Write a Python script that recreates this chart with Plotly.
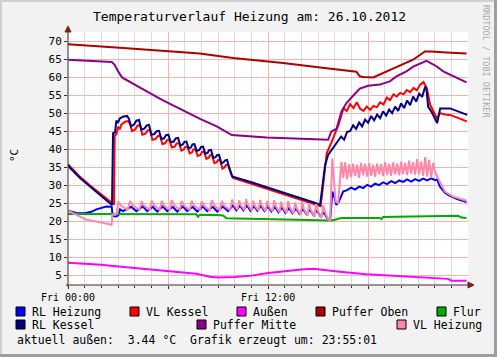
import plotly.graph_objects as go

# ---------------- data (hours since Fri 00:00, °C) ----------------
RL_HEIZUNG = [(0, 22.9), (0.5, 22.3), (1.0, 22.2), (1.4, 22.6), (1.7, 23.3), (2.0, 23.8), (2.3, 24.1), (2.62, 24.0),
              (2.68, 21.4), (2.9, 21.3), (3.05, 21.8), (3.12, 23.3), (3.3, 22.8),
              (3.78, 24.0), (4.1, 22.8), (4.48, 24.1), (4.75, 22.8), (5.08, 24.0), (5.35, 22.7), (5.68, 24.1), (5.95, 22.8),
              (6.28, 24.0), (6.55, 22.7), (6.88, 24.1), (7.15, 22.8), (7.48, 24.0), (7.75, 22.7), (8.08, 24.1), (8.35, 22.8),
              (8.68, 24.0), (8.95, 22.7), (9.28, 24.1), (9.6, 22.8),
              (9.9, 24.4), (10.1, 23.0), (10.32, 24.3), (10.52, 23.0), (10.74, 24.4), (10.94, 22.9), (11.16, 24.2), (11.36, 22.9),
              (11.58, 24.3), (11.78, 22.8), (12.0, 24.1), (12.2, 22.7), (12.42, 24.0), (12.62, 22.5), (12.84, 23.8), (13.04, 22.3),
              (13.26, 23.7), (13.46, 22.2), (13.68, 23.5), (13.88, 22.0), (14.1, 23.4), (14.3, 21.9), (14.52, 23.2), (14.72, 21.7),
              (14.94, 23.0), (15.14, 21.4), (15.36, 22.4), (15.55, 20.8), (15.72, 20.1),
              (15.85, 28.2), (15.95, 27.0), (16.1, 24.5), (16.25, 25.5), (16.5, 28.2), (16.74, 28.6), (16.98, 29.3), (17.22, 28.8),
              (17.46, 29.6), (17.7, 29.2), (17.94, 30.1), (18.18, 29.6), (18.42, 30.4), (18.66, 30.0), (18.9, 30.8), (19.14, 30.3),
              (19.38, 31.1), (19.62, 30.6), (19.86, 31.3), (20.1, 30.9), (20.34, 31.6), (20.58, 31.0), (20.82, 31.7), (21.06, 31.2),
              (21.3, 31.8), (21.54, 31.3), (21.78, 31.9), (22.02, 31.4), (22.14, 31.6), (22.3, 29.6), (22.6, 27.9), (22.9, 27.0),
              (23.3, 26.2), (23.9, 25.3)]

VL_KESSEL = [(0, 35.8), (0.72, 32.3), (1.32, 29.9), (1.92, 27.6), (2.52, 25.3), (2.7, 24.6), (2.76, 24.6),
             (2.8, 43.8), (2.9, 44.1), (3.0, 46.2), (3.1, 45.5), (3.2, 46.8), (3.42, 47.6), (3.6, 47.8), (3.72, 47.0),
             (3.84, 45.0), (4.02, 45.4), (4.16, 46.5), (4.32, 46.7), (4.46, 44.0), (4.64, 44.3), (4.78, 45.2), (4.92, 45.3),
             (5.06, 42.6), (5.24, 42.8), (5.38, 43.6), (5.52, 43.7), (5.66, 41.4), (5.82, 41.6), (5.94, 42.5), (6.08, 42.6),
             (6.22, 40.5), (6.4, 40.7), (6.52, 41.6), (6.66, 41.7), (6.8, 39.6), (6.94, 39.9), (7.04, 40.6), (7.16, 40.7),
             (7.3, 38.8), (7.44, 39.1), (7.52, 39.9), (7.64, 40.0), (7.78, 38.1), (7.94, 38.4), (8.04, 39.2), (8.16, 39.3),
             (8.3, 37.3), (8.44, 37.6), (8.52, 38.3), (8.64, 38.4), (8.78, 36.1), (8.92, 36.4), (9.0, 37.0), (9.12, 37.0),
             (9.26, 34.6), (9.4, 35.0), (9.48, 35.6), (9.6, 35.7), (9.72, 34.0), (9.9, 32.0), (11.0, 30.4), (12.5, 28.2),
             (14.0, 26.1), (14.88, 24.6), (15.15, 24.2), (15.3, 30.0), (15.45, 37.0), (15.52, 38.9), (15.82, 42.1),
             (16.22, 46.7), (16.52, 51.3), (16.72, 50.6), (16.92, 52.5), (17.12, 51.4), (17.32, 53.0), (17.52, 51.2),
             (17.72, 50.6), (17.92, 51.8), (18.12, 50.9), (18.32, 52.0), (18.52, 51.6), (18.72, 53.0), (18.92, 52.4),
             (19.12, 54.3), (19.32, 53.6), (19.52, 55.2), (19.72, 54.6), (19.92, 55.6), (20.12, 55.2), (20.32, 56.4),
             (20.52, 55.8), (20.72, 57.0), (20.92, 56.3), (21.12, 57.9), (21.32, 58.6), (21.42, 57.8), (21.52, 56.9),
             (21.72, 52.3), (21.92, 50.4), (22.12, 48.6), (22.32, 50.0), (22.6, 49.6), (22.92, 49.5), (23.92, 47.7)]

AUSSEN = [(0, 8.5), (1.0, 8.3), (2.0, 7.9), (2.7, 7.6), (3.7, 7.2), (5.2, 6.4), (5.7, 6.3), (7.0, 5.8), (7.7, 5.4),
          (8.5, 4.6), (9.0, 4.4), (10.0, 4.5), (11.0, 4.9), (12.0, 5.6), (12.9, 6.1), (14.0, 6.6), (14.7, 6.8),
          (15.5, 6.5), (16.3, 6.0), (17.9, 5.3), (19.7, 4.8), (21.5, 4.5), (22.3, 4.2), (22.8, 4.0), (23.0, 3.5),
          (23.9, 3.5)]

PUFFER_OBEN = [(0, 69.1), (1.5, 68.7), (3.1, 68.1), (5.0, 67.5), (7.9, 66.5), (9.9, 65.3), (12.9, 63.9), (15.0, 62.7),
               (17.1, 61.7), (17.3, 61.5), (17.5, 60.2), (17.7, 60.0), (18.3, 59.9), (18.9, 61.1), (19.7, 62.8),
               (20.7, 64.8), (21.4, 67.1), (21.8, 67.1), (22.7, 66.8), (23.9, 66.5)]

FLUR = [(0, 22.0), (3.0, 22.0), (7.7, 21.9), (7.8, 21.2), (7.9, 21.8), (8.9, 21.7), (9.3, 21.6), (9.5, 20.8),
        (12.0, 20.6), (15.5, 20.3), (15.8, 20.2), (16.0, 20.4), (16.4, 20.9), (18.7, 20.9), (18.8, 20.6), (18.9, 21.2),
        (21.7, 21.5), (23.4, 21.5), (23.6, 21.0), (23.9, 20.9)]

RL_KESSEL = [(0, 35.4), (0.72, 32.0), (1.32, 29.6), (1.92, 27.3), (2.52, 25.0), (2.64, 24.5), (2.70, 44.4), (2.82, 44.6),
             (2.90, 47.9), (3.0, 47.3), (3.1, 48.5), (3.3, 49.0), (3.54, 49.2), (3.66, 48.4), (3.78, 46.3), (3.96, 46.8),
             (4.10, 47.9), (4.26, 48.1), (4.40, 45.4), (4.58, 45.7), (4.72, 46.6), (4.86, 46.7), (5.00, 44.0), (5.18, 44.2),
             (5.32, 45.0), (5.46, 45.1), (5.60, 42.8), (5.76, 43.0), (5.88, 43.9), (6.02, 44.0), (6.16, 41.9), (6.34, 42.1),
             (6.46, 43.0), (6.60, 43.1), (6.74, 41.0), (6.88, 41.3), (6.98, 42.0), (7.10, 42.1), (7.24, 40.2), (7.38, 40.5),
             (7.46, 41.3), (7.58, 41.4), (7.72, 39.5), (7.88, 39.8), (7.98, 40.6), (8.10, 40.7), (8.24, 38.7), (8.38, 39.0),
             (8.46, 39.7), (8.58, 39.8), (8.72, 37.5), (8.86, 37.8), (8.94, 38.3), (9.06, 38.4), (9.20, 36.0), (9.34, 36.4),
             (9.42, 36.9), (9.54, 37.0), (9.66, 35.0), (9.84, 32.4), (11.0, 30.8), (12.5, 28.6), (14.0, 26.5), (14.88, 25.0),
             (15.12, 24.5), (15.24, 29.4), (15.42, 35.6), (15.6, 38.4), (15.9, 40.3), (16.2, 42.1), (16.38, 43.5),
             (16.56, 42.6), (16.74, 44.8), (16.92, 45.0), (17.1, 46.6), (17.28, 45.6), (17.46, 47.4), (17.64, 46.3),
             (17.82, 48.2), (18.0, 47.3), (18.18, 49.2), (18.36, 48.0), (18.54, 49.6), (18.72, 48.6), (18.9, 50.5),
             (19.08, 49.3), (19.26, 51.0), (19.44, 50.0), (19.62, 51.8), (19.8, 50.6), (19.98, 52.7), (20.16, 51.4),
             (20.34, 53.5), (20.52, 52.2), (20.7, 54.6), (20.88, 53.2), (21.06, 55.4), (21.24, 54.5), (21.42, 57.3),
             (21.5, 56.5), (21.6, 51.8), (21.84, 50.0), (22.14, 47.2), (22.32, 51.3), (22.92, 51.3), (23.94, 49.5)]

PUFFER_MITTE = [(0, 64.8), (1.5, 64.5), (2.62, 64.2), (2.8, 63.4), (3.0, 61.6), (3.24, 59.9), (3.9, 58.1), (4.72, 56.0),
                (5.7, 53.5), (6.82, 50.9), (7.92, 48.4), (8.92, 46.3), (9.5, 44.6), (9.82, 43.9), (11.92, 43.2),
                (15.6, 42.6), (15.8, 44.9), (16.1, 45.6), (16.4, 50.4), (16.7, 52.8), (17.1, 54.8), (17.5, 56.8),
                (18.0, 57.6), (18.7, 57.9), (19.3, 58.8), (19.7, 60.2), (20.3, 61.6), (20.7, 62.9), (21.5, 64.5),
                (22.1, 63.0), (22.5, 61.6), (23.3, 59.7), (23.9, 58.5)]

VL_HEIZUNG = [(0, 22.9), (0.4, 22.0), (0.72, 21.3), (1.1, 20.4), (1.7, 19.9), (2.3, 19.4), (2.62, 19.0), (2.66, 21.8),
              (2.9, 22.0), (3.02, 25.4), (3.2, 24.2), (3.58, 23.2), (3.72, 25.6), (3.9, 24.3), (4.28, 23.2),
              (4.42, 25.5), (4.57, 24.3), (4.9, 23.2), (5.02, 25.7), (5.17, 24.4), (5.5, 23.2), (5.62, 25.6), (5.77, 24.3),
              (6.1, 23.1), (6.22, 25.8), (6.37, 24.4), (6.7, 23.2), (6.82, 25.6), (6.97, 24.3), (7.3, 23.1), (7.42, 25.7),
              (7.57, 24.3), (7.9, 23.2), (8.02, 25.5), (8.17, 24.2), (8.5, 23.0), (8.62, 25.8), (8.77, 24.4), (9.1, 23.1),
              (9.22, 25.6), (9.37, 24.3), (9.72, 23.1), (9.84, 26.0), (9.94, 24.6), (10.17, 23.2), (10.26, 25.8),
              (10.36, 24.4), (10.59, 23.1), (10.68, 26.1), (10.78, 24.6), (11.01, 23.0), (11.10, 25.7), (11.2, 24.3),
              (11.43, 22.9), (11.52, 25.9), (11.62, 24.4), (11.85, 22.8), (11.94, 25.6), (12.04, 24.2), (12.27, 22.7),
              (12.36, 25.8), (12.46, 24.2), (12.69, 22.5), (12.78, 25.4), (12.88, 23.9), (13.11, 22.3), (13.20, 25.6),
              (13.3, 23.9), (13.53, 22.0), (13.62, 25.2), (13.72, 23.6), (13.95, 21.8), (14.04, 25.3), (14.14, 23.5),
              (14.37, 21.5), (14.46, 25.0), (14.56, 23.2), (14.79, 21.2), (14.88, 24.8), (14.98, 23.0), (15.21, 20.9),
              (15.30, 24.5), (15.42, 22.5), (15.6, 20.5), (15.72, 20.2), (15.85, 37.4), (15.95, 30.0), (16.05, 25.5),
              (16.2, 25.0), (16.3, 30.0), (16.4, 36.5), (16.5, 32.0), (16.62, 36.3), (16.74, 31.6), (16.86, 35.8),
              (16.98, 32.2), (17.1, 36.0), (17.22, 32.5), (17.34, 35.6), (17.46, 32.0), (17.58, 36.2), (17.7, 32.8),
              (17.82, 35.9), (17.94, 32.4), (18.06, 36.1), (18.18, 32.6), (18.3, 35.7), (18.42, 32.3), (18.54, 36.0),
              (18.66, 33.0), (18.78, 35.8), (18.9, 32.5), (19.02, 36.4), (19.14, 32.8), (19.26, 35.9), (19.38, 32.6),
              (19.5, 36.3), (19.62, 33.0), (19.74, 36.0), (19.86, 32.7), (19.98, 36.5), (20.1, 33.1), (20.22, 36.2),
              (20.34, 32.8), (20.46, 36.8), (20.58, 33.2), (20.7, 36.4), (20.82, 32.9), (20.94, 37.2), (21.06, 33.0),
              (21.18, 36.6), (21.3, 32.6), (21.42, 37.8), (21.54, 32.4), (21.66, 37.0), (21.78, 32.0), (21.9, 36.2),
              (22.02, 33.5), (22.14, 32.4), (22.3, 30.5), (22.6, 28.2), (23.1, 26.8), (23.9, 25.7)]

SERIES_NAMES = ["RL Heizung", "VL Kessel", "Außen", "Puffer Oben", "Flur", "RL Kessel", "Puffer Mitte", "VL Heizung"]
SERIES_DATA = [RL_HEIZUNG, VL_KESSEL, AUSSEN, PUFFER_OBEN, FLUR, RL_KESSEL, PUFFER_MITTE, VL_HEIZUNG]
SERIES_COLORS = ["#0000ff", "#ff0000", "#ff00ff", "#aa0000", "#00aa00", "#000080", "#880088", "#ff88aa"]

X_TICK_VALUES = [0, 6, 12, 18]
X_TICK_TEXT = ["Fri 00:00", "", "Fri 12:00", ""]
Y_TICK_VALUES = [5, 10, 15, 20, 25, 30, 35, 40, 45, 50, 55, 60, 65, 70]

TITLE = "Temperaturverlauf Heizung am: 26.10.2012"
FOOTER = "aktuell außen:  3.44 °C  Grafik erzeugt um: 23:55:01"
WATERMARK = "RRDTOOL / TOBI OETIKER"

# ---------------- layout geometry ----------------
W, H = 497, 357
L, R, T, B = 68, 29, 32, 72
PW, PH = W - L - R, H - T - B
FONT = "DejaVu Sans Mono"
BACK, CANVAS = "#f2f2f2", "#ffffff"
SHADE_A, SHADE_B = "#cfcfcf", "#9e9e9e"
GRID, MGRID = "#dcdcdc", "#f2b4b4"
AXIS, ARROW = "#3a2a2a", "#801f1f"


def ax(px):
    return (px - L) / PW


def ay(py):
    return (H - B - py) / PH


fig = go.Figure()
for name, data, col in zip(SERIES_NAMES, SERIES_DATA, SERIES_COLORS):
    fig.add_trace(go.Scatter(x=[p[0] for p in data], y=[p[1] for p in data], mode="lines", name=name,
                             line=dict(color=col, width=2), hoverinfo="skip", showlegend=False))

fig.update_layout(
    width=W, height=H, margin=dict(l=L, r=R, t=T, b=B, pad=0),
    paper_bgcolor=BACK, plot_bgcolor=CANVAS, showlegend=False,
    font=dict(family=FONT, size=11, color="#000000"),
)
fig.update_xaxes(range=[0, 23.99], tickmode="array", tickvals=X_TICK_VALUES, ticktext=X_TICK_TEXT,
                 showgrid=True, gridcolor=MGRID, gridwidth=1, zeroline=False, showline=False,
                 ticks="outside", ticklen=3, tickcolor=AXIS, tickfont=dict(size=10, family=FONT),
                 minor=dict(tickmode="linear", tick0=0, dtick=1, showgrid=True, gridcolor=GRID,
                            ticks="outside", ticklen=2, tickcolor=AXIS),
                 fixedrange=True, layer="below traces")
fig.update_yaxes(range=[2.3, 72.5], tickmode="array", tickvals=Y_TICK_VALUES,
                 showgrid=True, gridcolor=MGRID, gridwidth=1, zeroline=False, showline=False,
                 ticks="outside", ticklen=3, tickcolor=AXIS, tickfont=dict(size=11, family=FONT),
                 fixedrange=True)

shapes = []
# frame (3d shade)
shapes.append(dict(type="line", xref="paper", yref="paper", x0=ax(0), x1=ax(W), y0=ay(1), y1=ay(1),
                   line=dict(color=SHADE_A, width=2)))
shapes.append(dict(type="line", xref="paper", yref="paper", x0=ax(1), x1=ax(1), y0=ay(0), y1=ay(H),
                   line=dict(color=SHADE_A, width=2)))
shapes.append(dict(type="line", xref="paper", yref="paper", x0=ax(0), x1=ax(W), y0=ay(H - 1.5), y1=ay(H - 1.5),
                   line=dict(color=SHADE_B, width=3)))
shapes.append(dict(type="line", xref="paper", yref="paper", x0=ax(W - 1.5), x1=ax(W - 1.5), y0=ay(0), y1=ay(H),
                   line=dict(color=SHADE_B, width=3)))
# axes with arrows
shapes.append(dict(type="line", xref="paper", yref="paper", x0=ax(66), x1=ax(469), y0=ay(285), y1=ay(285),
                   line=dict(color=AXIS, width=1)))
shapes.append(dict(type="line", xref="paper", yref="paper", x0=ax(68), x1=ax(68), y0=ay(287), y1=ay(30),
                   line=dict(color=AXIS, width=1)))
shapes.append(dict(type="path", xref="paper", yref="paper",
                   path=f"M {ax(468)} {ay(282)} L {ax(474)} {ay(285)} L {ax(468)} {ay(288)} Z",
                   fillcolor=ARROW, line=dict(color=ARROW, width=1)))
shapes.append(dict(type="path", xref="paper", yref="paper",
                   path=f"M {ax(65)} {ay(32)} L {ax(68)} {ay(26)} L {ax(71)} {ay(32)} Z",
                   fillcolor=ARROW, line=dict(color=ARROW, width=1)))

annotations = [
    dict(text=TITLE, x=ax(249), y=ay(16.5), xref="paper", yref="paper", showarrow=False,
         xanchor="center", yanchor="middle", font=dict(size=13, family=FONT, color="#000000")),
    dict(text="°C", x=ax(14), y=ay(156), xref="paper", yref="paper", showarrow=False, textangle=-90,
         xanchor="center", yanchor="middle", font=dict(size=11, family=FONT, color="#000000")),
    dict(text=WATERMARK, x=ax(486.5), y=ay(61.5), xref="paper", yref="paper", showarrow=False, textangle=90,
         xanchor="center", yanchor="middle", font=dict(size=8.5, family=FONT, color="#ababab")),
    dict(text=FOOTER.replace(" ", "\u00a0"), x=ax(15), y=ay(340), xref="paper", yref="paper", showarrow=False,
         xanchor="left", yanchor="middle", font=dict(size=11.5, family=FONT, color="#000000")),
]

# legend (RRDtool style: coloured box + label)
LEGEND_POS = [(16, 311.5), (130, 311.5), (237, 311.5), (316, 311.5), (437, 311.5),
              (16, 324.5), (197, 324.5), (397, 324.5)]
LEGEND_ORDER = ["RL Heizung", "VL Kessel", "Außen", "Puffer Oben", "Flur", "RL Kessel", "Puffer Mitte", "VL Heizung"]
for (lx, ly), nm in zip(LEGEND_POS, LEGEND_ORDER):
    col = SERIES_COLORS[SERIES_NAMES.index(nm)]
    shapes.append(dict(type="rect", xref="paper", yref="paper", x0=ax(lx), x1=ax(lx + 9), y0=ay(ly - 4.5),
                       y1=ay(ly + 4.5), fillcolor=col, line=dict(color="#000000", width=1)))
    annotations.append(dict(text=nm, x=ax(lx + 13.5), y=ay(ly), xref="paper", yref="paper", showarrow=False,
                            xanchor="left", yanchor="middle",
                            font=dict(size=11.5, family=FONT, color="#000000")))

fig.update_layout(shapes=shapes, annotations=annotations)
fig.write_html("out.html", config={"displayModeBar": False},
               post_script="document.body.style.margin='0px';document.body.style.padding='0px';"
                           "document.body.style.background='#f2f2f2';")
